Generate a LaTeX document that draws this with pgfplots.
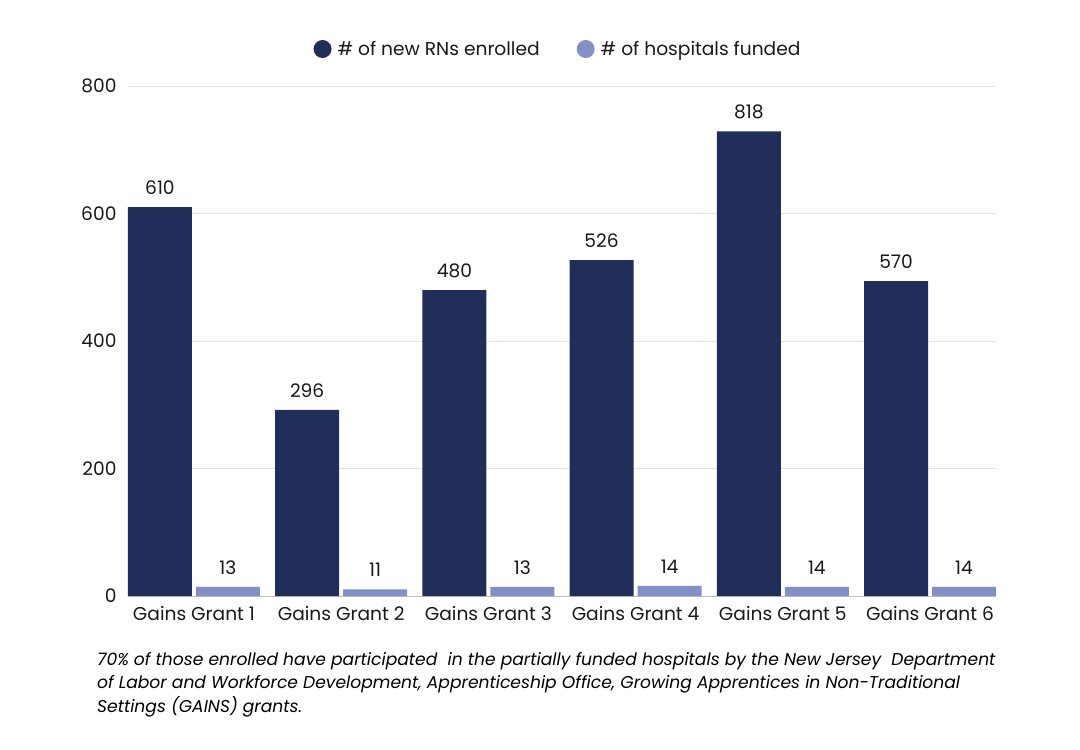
\documentclass[border=0pt]{standalone}
\usepackage{pgfplots}
\pgfplotsset{compat=1.18}
\usepackage{pgfplotstable}
\usepackage{fontspec}
\setmainfont{Poppins}

\definecolor{navy}{HTML}{212E5A}
\definecolor{lav}{HTML}{8290C5}
\definecolor{gridgray}{HTML}{E3E3E3}

% bar heights as drawn, labels as printed
\pgfplotstableread{
x h lab
0 610 610
1 292 296
2 480 480
3 527 526
4 729 818
5 494 570
}\rns
\pgfplotstableread{
x h lab
0 14.5 13
1 10.5 11
2 14.5 13
3 16 14
4 14.5 14
5 14.5 14
}\hosp

\begin{document}
\begin{tikzpicture}
\useasboundingbox (-128bp,-154bp) rectangle (952bp,596bp);
\begin{axis}[
  scale only axis,
  width=868bp, height=510bp,
  ybar, bar width=0.435,
  xmin=-0.448, xmax=5.448,
  ymin=0, ymax=800,
  ytick={0,200,...,800},
  xtick={0,...,5},
  xticklabels={Gains Grant 1,Gains Grant 2,Gains Grant 3,Gains Grant 4,Gains Grant 5,Gains Grant 6},
  ymajorgrids,
  grid style={gridgray, line width=0.8pt},
  axis x line*=bottom,
  axis y line*=left,
  y axis line style={draw=none},
  x axis line style={draw=black!25, line width=0.8pt},
  major tick length=0pt,
  /pgf/number format/assume math mode=true,
  tick label style={font=\fontsize{18.7}{22}\selectfont, text=black!90},
  yticklabel style={xshift=-8bp},
  xticklabel style={yshift=-7bp},
  nodes near coords style={font=\fontsize{18.7}{22}\selectfont, text=black!90, anchor=south, yshift=9bp},
  legend style={at={(0.5,1)}, anchor=center, xshift=-4bp, yshift=37bp, draw=none,
    font=\fontsize{18.7}{22}\selectfont, text=black!90,
    /tikz/every odd column/.append style={column sep=4bp},
    /tikz/every even column/.append style={column sep=35bp}},
  legend columns=2,
  clip=false,
]
\addplot[bar shift=-0.231, fill=navy, draw=none,
  nodes near coords, point meta=explicit symbolic,
  legend image code/.code={\fill[navy] (0bp,0bp) circle (9bp);}]
  table[x=x, y=h, meta=lab] {\rns};
\addlegendentry{\# of new RNs enrolled}
\addplot[bar shift=0.231, fill=lav, draw=none,
  nodes near coords, point meta=explicit symbolic,
  legend image code/.code={\fill[lav] (0bp,0bp) circle (9bp);}]
  table[x=x, y=h, meta=lab] {\hosp};
\addlegendentry{\# of hospitals funded}
\end{axis}
\node[anchor=north west, inner sep=0pt, align=left, text=black,
  font=\itshape\fontsize{17.2}{23.7}\selectfont] at (-31bp,-56bp)
  {70\% of those enrolled have participated\ \ in the partially funded hospitals by the New Jersey\ \ Department\\
   of Labor and Workforce Development, Apprenticeship Office, Growing Apprentices in Non-Traditional\\
   Settings (GAINS) grants.};
\end{tikzpicture}
\end{document}
